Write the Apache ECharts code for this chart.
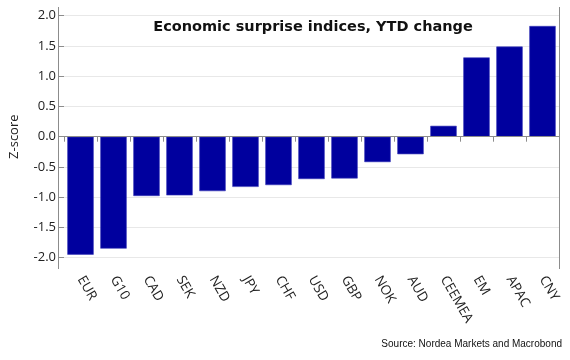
<!DOCTYPE html>
<html><head><meta charset="utf-8">
<script src="https://cdn.jsdelivr.net/npm/echarts@6/dist/echarts.min.js"></script>
<style>html,body{margin:0;padding:0;background:#fff}#c{width:570px;height:360px}</style>
</head><body><div id="c"></div>
<script>
var categories = ["EUR","G10","CAD","SEK","NZD","JPY","CHF","USD","GBP","NOK","AUD","CEEMEA","EM","APAC","CNY"];
var values = [-1.95,-1.85,-0.98,-0.97,-0.90,-0.83,-0.80,-0.70,-0.69,-0.42,-0.29,0.18,1.31,1.49,1.83];
var yTicks = [-2.0,-1.5,-1.0,-0.5,0.0,0.5,1.0,1.5,2.0];

var chart = echarts.init(document.getElementById('c'), null, {renderer:'canvas'});
var gridL = 58, gridR = 11, gridT = 15.7, gridB = 102.3;
var lineColor = '#8c8c8c';
chart.setOption({
  animation:false,
  backgroundColor:'#fff',
  title:{text:'Economic surprise indices, YTD change', left:308, top:15, textAlign:'center',
    textStyle:{fontFamily:'DejaVu Sans', fontWeight:'bold', fontSize:14.5, color:'#111'}},
  grid:{left:gridL, right:gridR, top:gridT, bottom:gridB},
  xAxis:{type:'category', data:categories, offset:11.3,
    axisLine:{show:true, lineStyle:{color:lineColor, width:1}},
    axisTick:{show:true, alignWithLabel:false, length:5, lineStyle:{color:lineColor}},
    axisLabel:{rotate:-60, fontFamily:'Open Sans', fontSize:13.5, color:'#222', margin:8, interval:0}},
  yAxis:{type:'value', min:-2, max:2, interval:0.5,
    name:'Z-score', nameLocation:'middle', nameGap:43, nameRotate:90,
    nameTextStyle:{fontFamily:'Open Sans', fontSize:13, color:'#222'},
    axisLine:{show:false},
    axisTick:{show:true, length:5, lineStyle:{color:lineColor}},
    axisLabel:{fontFamily:'Open Sans', fontSize:13, color:'#222', margin:8,
      formatter:function(v){return yTicks.indexOf(Math.round(v*10)/10)>=0 ? v.toFixed(1) : '';}},
    splitLine:{show:true, lineStyle:{color:'#e8e8e8', width:1}}},
  series:[{type:'bar', data:values, barCategoryGap:'20%',
    itemStyle:{color:'#00009e', borderColor:'#3a3ab8', borderWidth:0.6},
    markLine:{silent:true, symbol:'none', label:{show:false},
      lineStyle:{color:'#8c8c8c', width:1, type:'solid'}, data:[{yAxis:0}]}}],
  graphic:[
    {type:'line', shape:{x1:gridL+0.5, y1:7, x2:gridL+0.5, y2:269}, style:{stroke:lineColor, lineWidth:1}, z:10},
    {type:'line', shape:{x1:559.5, y1:7, x2:559.5, y2:269}, style:{stroke:lineColor, lineWidth:1}, z:10},
    {type:'text', right:8, top:339, style:{text:'Source: Nordea Markets and Macrobond', font:'10px "Liberation Sans"', fill:'#111'}}
  ]
});
</script></body></html>
